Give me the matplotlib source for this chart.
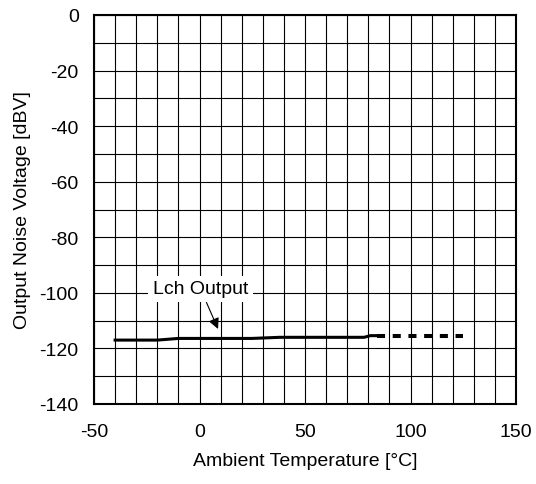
import numpy as np
import matplotlib
matplotlib.use("Agg")
import matplotlib.pyplot as plt

plt.rcParams['font.family'] = ['Liberation Sans', 'DejaVu Sans']
plt.rcParams['axes.unicode_minus'] = False

# measured curve (solid part) and guaranteed/extrapolated part (dashed)
temp_solid = [-40, -20, -10, 25, 38, 78, 81, 84]
noise_solid = [-117.0, -117.0, -116.4, -116.4, -116.0, -116.0, -115.4, -115.4]
temp_dash = [84, 125]
noise_dash = [-115.4, -115.4]

xticks = [-50, 0, 50, 100, 150]
yticks = [0, -20, -40, -60, -80, -100, -120, -140]

fig = plt.figure(figsize=(5.36, 4.85), dpi=100)
ax = fig.add_axes([94/536, 1 - 405/485, 422/536, 389/485])

ax.set_xlim(-50, 150)
ax.set_ylim(-140, 0)
ax.set_xticks(np.arange(-50, 151, 10), minor=True)
ax.set_yticks(np.arange(-140, 1, 10), minor=True)
ax.set_xticks(xticks)
ax.set_yticks(yticks)
ax.grid(True, which='both', color='black', linewidth=0.8)
ax.tick_params(which='both', length=0, labelsize=14)
ax.tick_params(axis='x', pad=14)
ax.tick_params(axis='y', pad=11)
for s in ax.spines.values():
    s.set_linewidth(1.5)

ax.plot(temp_solid, noise_solid, color='black', linewidth=2.2)
ax.plot(temp_dash, noise_dash, color='black', linewidth=2.9, linestyle=(0, (2, 1.9)))

ax.annotate('Lch Output', xy=(8.8, -113.0), xytext=(0.5, -98.6),
            ha='center', va='center', fontsize=14,
            bbox=dict(boxstyle='square,pad=0.25', fc='white', ec='none'),
            arrowprops=dict(arrowstyle='-|>', color='black', lw=0.8,
                            mutation_scale=16, shrinkA=0, shrinkB=0))

ax.set_xlabel('Ambient Temperature [°C]', fontsize=14, labelpad=8)
ax.set_ylabel('Output Noise Voltage [dBV]', fontsize=14, labelpad=6)

fig.savefig('out.png', dpi=100)
